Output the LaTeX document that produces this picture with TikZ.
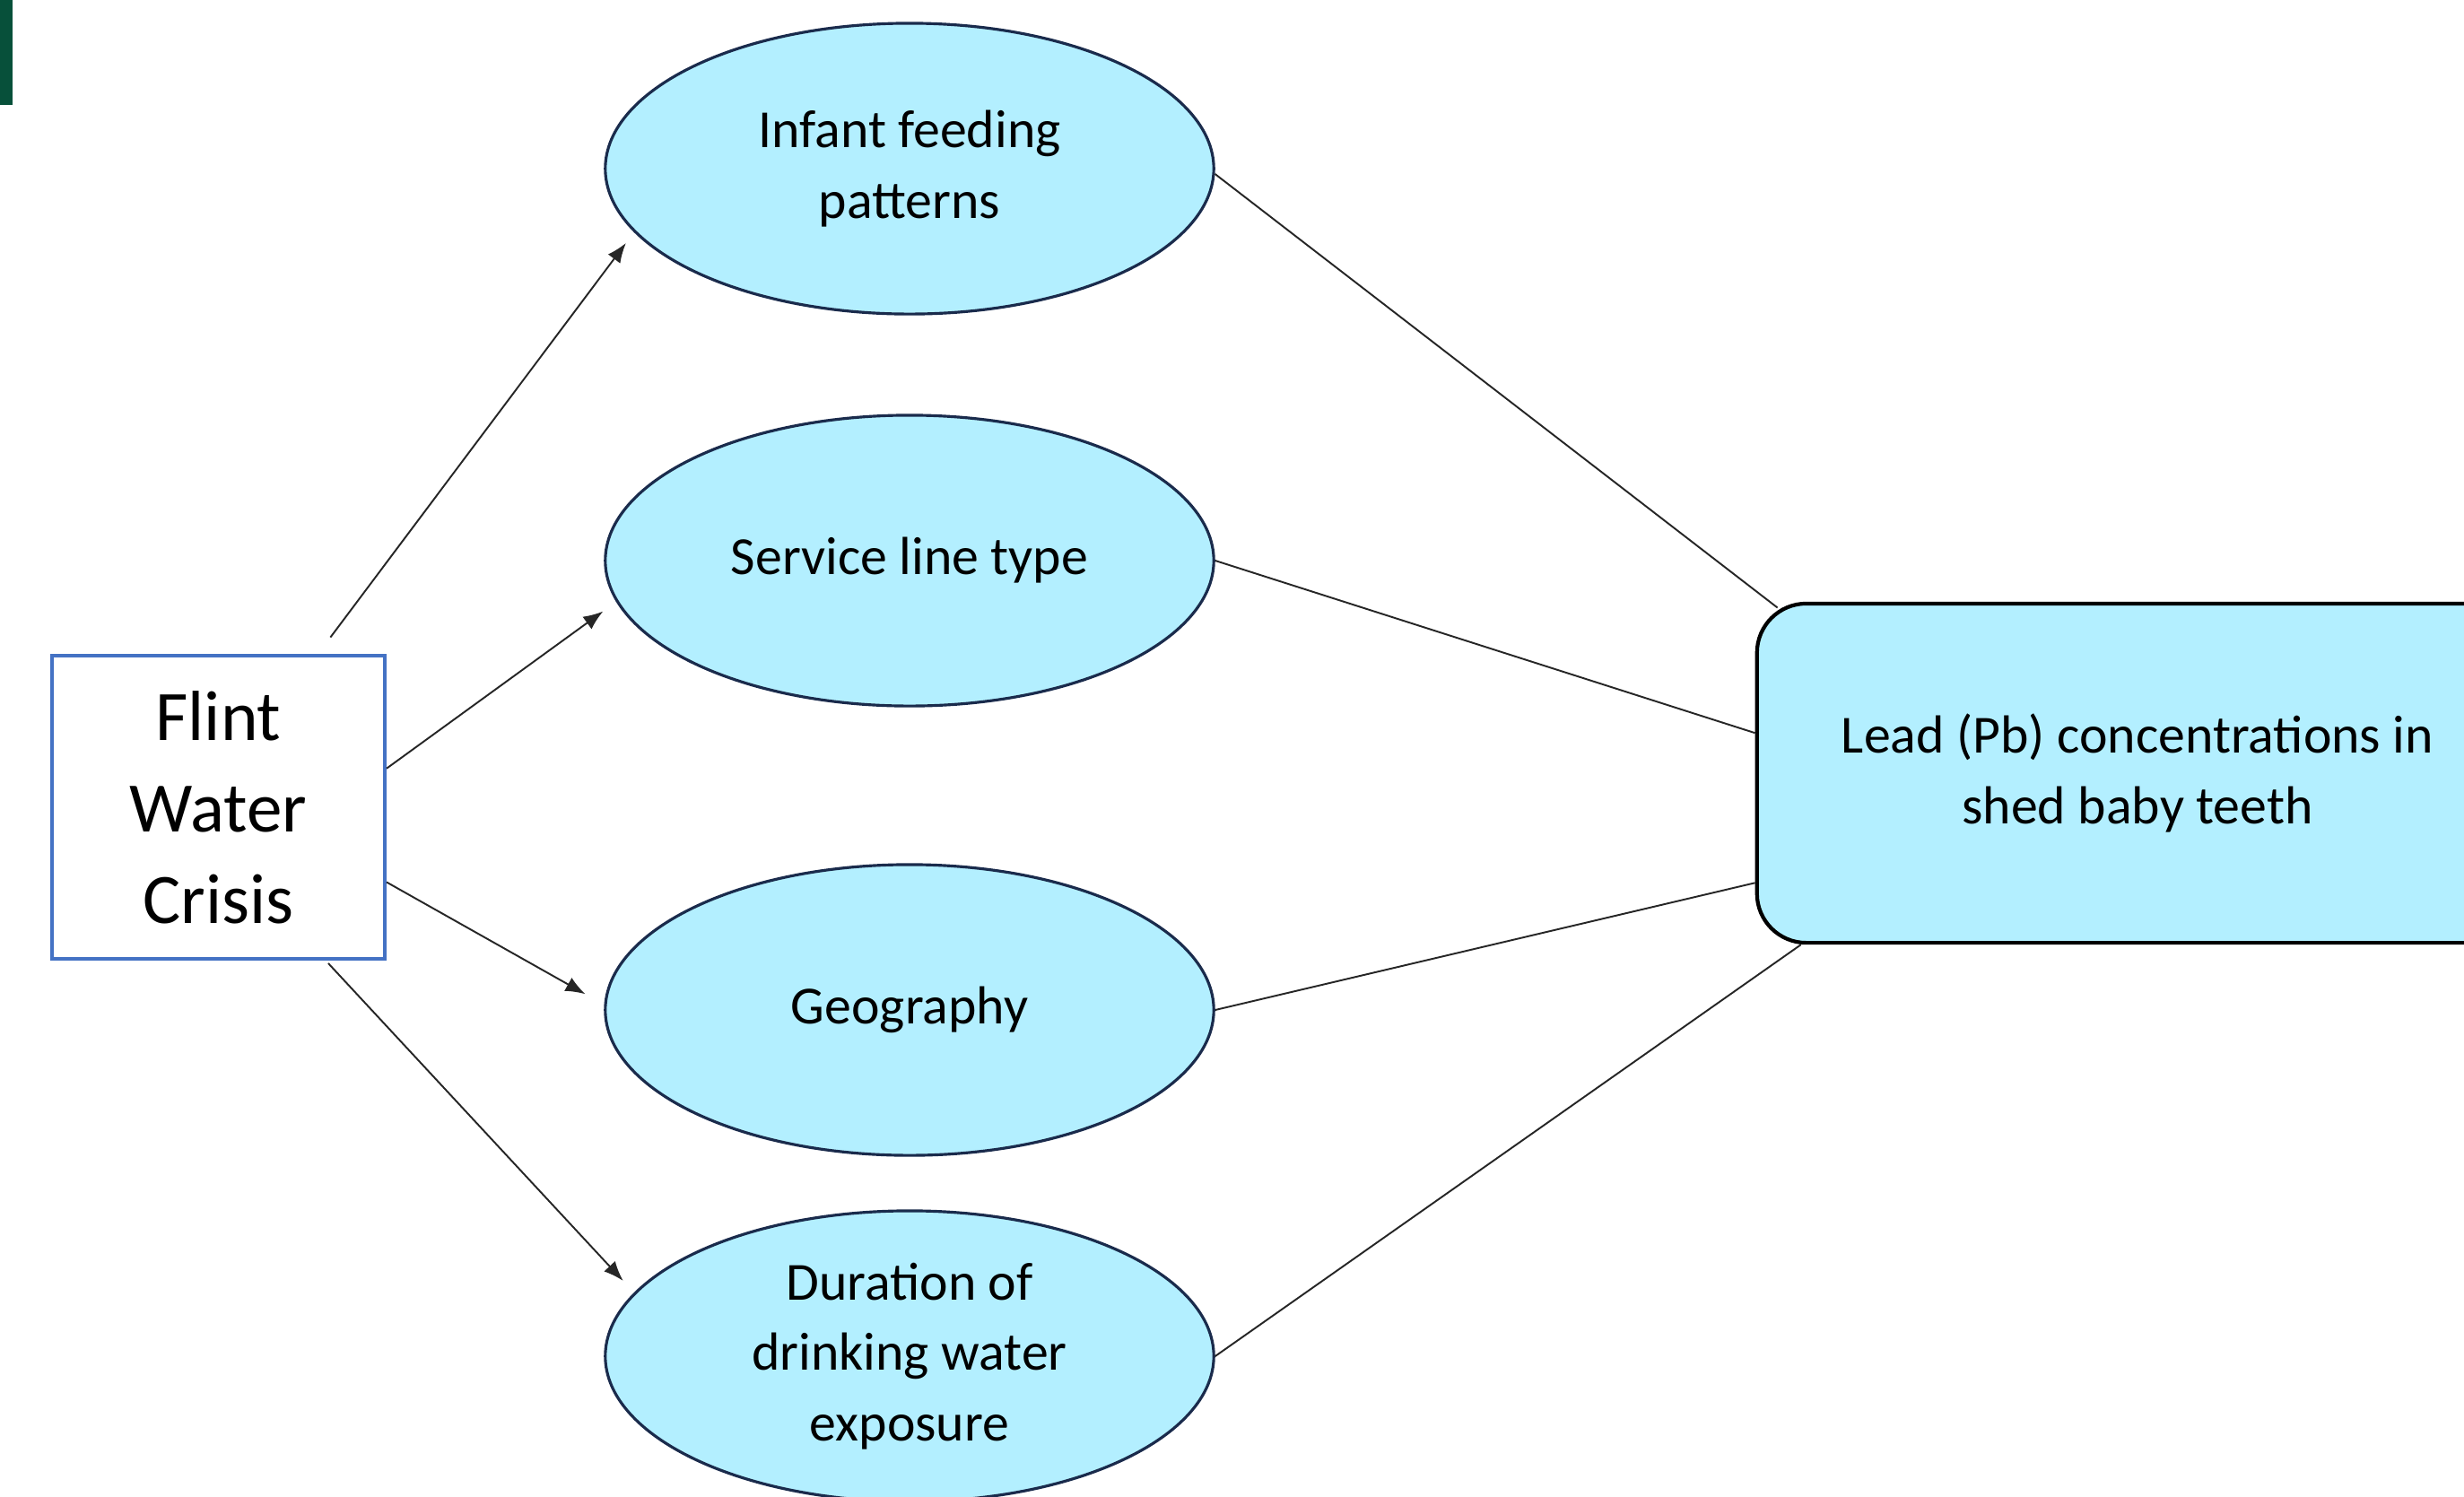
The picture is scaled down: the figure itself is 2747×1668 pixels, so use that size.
\documentclass[tikz,border=0pt]{standalone}
\usepackage{fontspec}
\setmainfont{Carlito}
\usetikzlibrary{shapes.geometric,arrows.meta,positioning}

\definecolor{bubble}{HTML}{B3EFFF}
\definecolor{navy}{HTML}{1A2B4C}
\definecolor{flintblue}{HTML}{4472C4}
\definecolor{sidebar}{HTML}{07503A}

\begin{document}
\begin{tikzpicture}[x=0.01cm,y=-0.01cm,
  factor/.style={ellipse,draw=navy,fill=bubble,line width=0.9pt,minimum width=6.78cm,minimum height=3.24cm,inner sep=0pt,align=center,font=\fontsize{17}{22.4}\selectfont},
  crisis/.style={rectangle,draw=flintblue,line width=1.1pt,minimum width=3.71cm,minimum height=3.38cm,align=center,font=\fontsize{22.5}{29}\selectfont},
  outcome/.style={rectangle,rounded corners=0.55cm,draw=black,fill=bubble,line width=1.2pt,minimum width=8.48cm,minimum height=3.78cm,align=center,font=\fontsize{17}{22.4}\selectfont},
  conn/.style={draw=black!85,line width=0.55pt},
  arr/.style={conn,-{Latex[length=0.22cm,width=0.17cm]}}]
  \useasboundingbox (0,0) rectangle (2747,1668);
  \clip (0,0) rectangle (2747,1668);
  \fill[sidebar] (0,0) rectangle (14,117);
  \node[crisis] (flint) at (243.5,900) {Flint\\Water\\Crisis};
  % factor ellipses, top to bottom
  \foreach [count=\i] \y/\lab in {188/{Infant feeding\\patterns},625/{Service line type},1126/{Geography},1512/{Duration of\\drinking water\\exposure}} {
    \node[factor] (f\i) at (1014,\y) {\lab};
  }
  \node[outcome] (lead) at (2383,862) {Lead (Pb) concentrations in\\shed baby teeth};
  % arrows from the crisis to each factor
  \draw[arr,shorten <=0.23cm,shorten >=0.15cm] (flint.57) -- (f1.193);
  \draw[arr,shorten >=0.18cm] (flint.13.6) -- (f2.188.4);
  \draw[arr,shorten >=0.24cm] (flint.336.4) -- (f3.179);
  \draw[arr,shorten <=0.04cm,shorten >=0.18cm] (flint.305.7) -- (f4.167.7);
  % plain lines from each factor to the outcome
  \draw[conn,shorten >=-0.11cm] (f1.359) -- (lead.155.6);
  \foreach \i/\a in {2/174,3/196,4/207} {
    \draw[conn] (f\i.east) -- (lead.\a);
  }
\end{tikzpicture}
\end{document}
